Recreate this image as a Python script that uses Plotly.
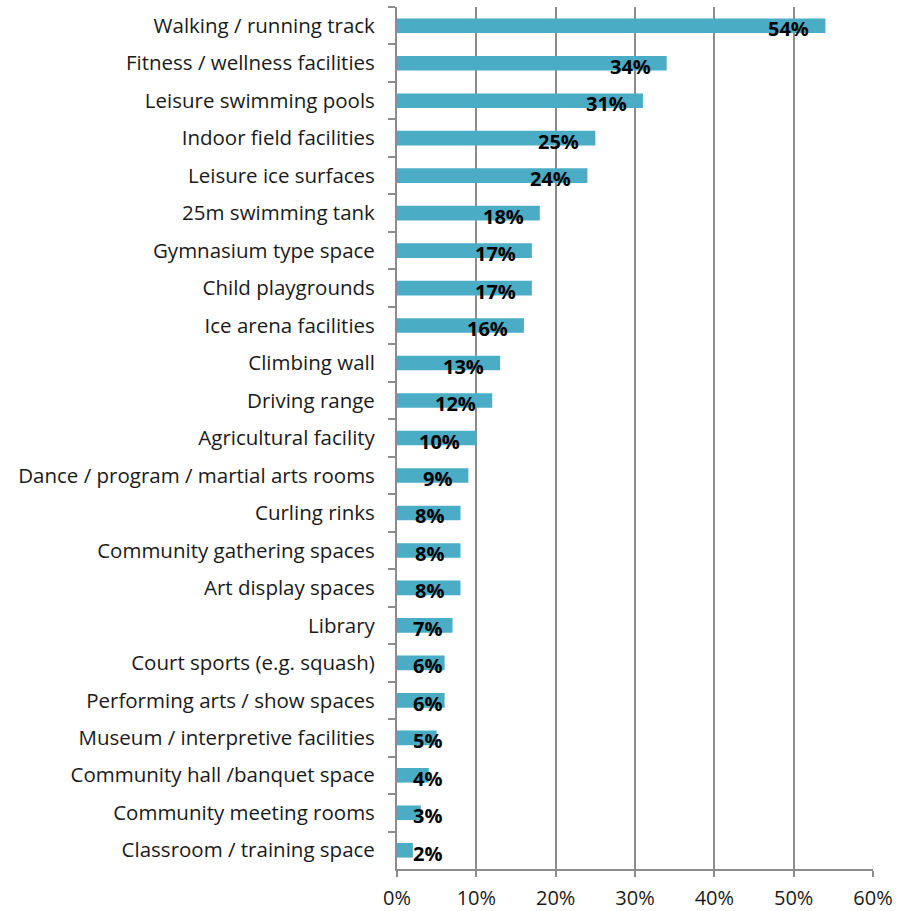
import plotly.graph_objects as go

# Facility types, listed top to bottom
categories = [
    "Walking / running track",
    "Fitness / wellness facilities",
    "Leisure swimming pools",
    "Indoor field facilities",
    "Leisure ice surfaces",
    "25m swimming tank",
    "Gymnasium type space",
    "Child playgrounds",
    "Ice arena facilities",
    "Climbing wall",
    "Driving range",
    "Agricultural facility",
    "Dance / program / martial arts rooms",
    "Curling rinks",
    "Community gathering spaces",
    "Art display spaces",
    "Library",
    "Court sports (e.g. squash)",
    "Performing arts / show spaces",
    "Museum / interpretive facilities",
    "Community hall /banquet space",
    "Community meeting rooms",
    "Classroom / training space",
]

# Share of respondents (%)
values = [54, 34, 31, 25, 24, 18, 17, 17, 16, 13, 12, 10, 9, 8, 8, 8, 7, 6, 6, 5, 4, 3, 2]

x_ticks = [0, 10, 20, 30, 40, 50, 60]
x_tick_labels = [f"{t}%" for t in x_ticks]

BAR = "#4BACC6"
GRID = "#8c8c8c"
FONT = "Open Sans"

fig = go.Figure(
    go.Bar(
        x=values,
        y=categories,
        orientation="h",
        marker=dict(color=BAR, line=dict(width=0)),
        hoverinfo="x+y",
    )
)

# Value labels sit just inside the bar end; short bars keep a minimum offset
min_anchor = 7.7
for cat, v in zip(categories, values):
    fig.add_annotation(
        x=max(v, min_anchor),
        y=cat,
        text=f"<b>{v}%</b>",
        showarrow=False,
        xanchor="right",
        xshift=-14,
        yshift=-3,
        font=dict(family=FONT, size=20, color="#000000"),
    )

fig.update_layout(
    width=912,
    height=911,
    margin=dict(l=397, r=39, t=7, b=42),
    paper_bgcolor="white",
    plot_bgcolor="white",
    bargap=0.61,
    showlegend=False,
    font=dict(family=FONT, size=20.5, color="#1a1a1a"),
)

fig.update_xaxes(
    range=[0, 60],
    tickvals=x_ticks,
    ticktext=x_tick_labels,
    automargin=False,
    showgrid=True,
    gridcolor=GRID,
    gridwidth=2,
    zeroline=False,
    showline=True,
    linecolor=GRID,
    linewidth=2,
    ticks="outside",
    ticklen=6,
    tickwidth=2,
    tickcolor=GRID,
    ticklabelstandoff=4,
    tickfont=dict(family=FONT, size=20, color="#1a1a1a"),
)

fig.update_yaxes(
    autorange="reversed",
    automargin=False,
    showgrid=False,
    showline=True,
    linecolor=GRID,
    linewidth=2,
    ticks="outside",
    tickson="boundaries",
    ticklen=7,
    tickwidth=2,
    tickcolor=GRID,
    ticklabelstandoff=16,
    tickfont=dict(family=FONT, size=20.5, color="#1a1a1a"),
)

fig.write_html("out.html")
